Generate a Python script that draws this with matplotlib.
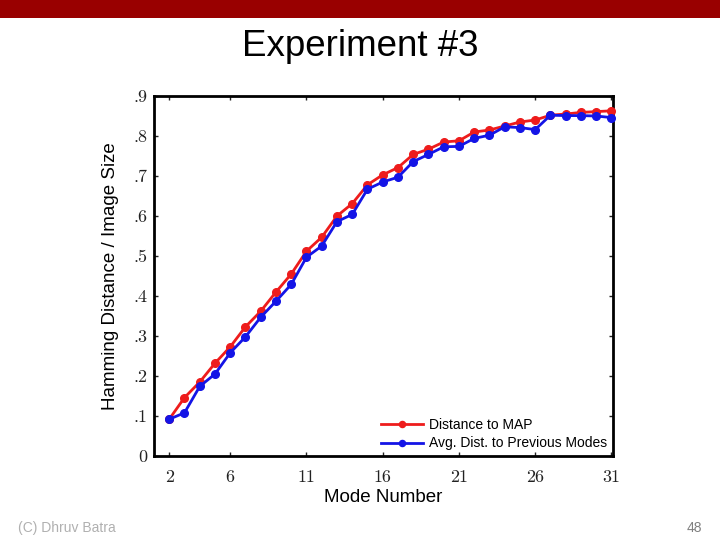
import numpy as np
import matplotlib
matplotlib.use("Agg")
import matplotlib.pyplot as plt
from matplotlib.patches import Rectangle

# data
modes = np.arange(2, 32)
dist_map = [0.092, 0.146, 0.185, 0.232, 0.273, 0.323, 0.362, 0.410, 0.455, 0.512,
            0.547, 0.600, 0.631, 0.678, 0.703, 0.721, 0.754, 0.767, 0.785, 0.788,
            0.810, 0.815, 0.825, 0.835, 0.840, 0.852, 0.855, 0.859, 0.861, 0.863]
dist_prev = [0.092, 0.108, 0.174, 0.205, 0.258, 0.298, 0.347, 0.387, 0.429, 0.497,
             0.525, 0.586, 0.604, 0.667, 0.685, 0.697, 0.736, 0.754, 0.773, 0.774,
             0.794, 0.802, 0.823, 0.821, 0.816, 0.852, 0.851, 0.851, 0.850, 0.846]
xticks = [2, 6, 11, 16, 21, 26, 31]
yticks = [0, .1, .2, .3, .4, .5, .6, .7, .8, .9]
ylabels = ['0', '.1', '.2', '.3', '.4', '.5', '.6', '.7', '.8', '.9']

fig = plt.figure(figsize=(7.2, 5.4), dpi=100, facecolor='w')

# slide decoration
fig.patches.append(Rectangle((0, 1 - 18/540), 1, 18/540, transform=fig.transFigure,
                             facecolor='#990000', edgecolor='none'))
fig.text(0.5, 1 - 47/540, 'Experiment #3', ha='center', va='center', fontsize=26.5,
         family='Liberation Sans')
fig.text(18/720, 1 - 528/540, '(C) Dhruv Batra', ha='left', va='center', fontsize=10,
         color='#b0b0b0', family='Liberation Sans')
fig.text(702/720, 1 - 528/540, '48', ha='right', va='center', fontsize=10,
         color='#808080', family='Liberation Sans')

ax = fig.add_axes([154/720, 1 - 456/540, (613 - 154)/720, (456 - 96)/540])
ax.plot(modes, dist_map, '-o', color='#ee1c1c', lw=2, ms=5.5,
        label='Distance to MAP', clip_on=False, zorder=3)
ax.plot(modes, dist_prev, '-o', color='#1414e6', lw=2, ms=5.5,
        label='Avg. Dist. to Previous Modes', clip_on=False, zorder=3)

ax.set_xlim(1, 31.1)
ax.set_ylim(0, 0.9)
ax.set_xticks(xticks)
ax.set_xticklabels([str(t) for t in xticks], family='cmr10')
ax.set_yticks(yticks)
ax.set_yticklabels(ylabels, family='cmr10')
ax.tick_params(direction='in', top=True, right=True, length=3, width=1,
               labelsize=13, colors='#222222')
ax.tick_params(axis='x', pad=9.5)
ax.tick_params(axis='y', pad=5)
for sp in ax.spines.values():
    sp.set_linewidth(2)

ax.set_xlabel('Mode Number', fontsize=13.5, family='Liberation Sans', labelpad=3)
ax.set_ylabel('Hamming Distance / Image Size', fontsize=13.5, family='Liberation Sans',
              labelpad=10)

leg = ax.legend(loc='lower right', frameon=False, handlelength=3.0, markerscale=0.8,
                borderaxespad=0.2, borderpad=0.2, labelspacing=0.3, handletextpad=0.45,
                prop={'family': 'Liberation Sans', 'size': 10})

fig.savefig('out.png', dpi=100)
